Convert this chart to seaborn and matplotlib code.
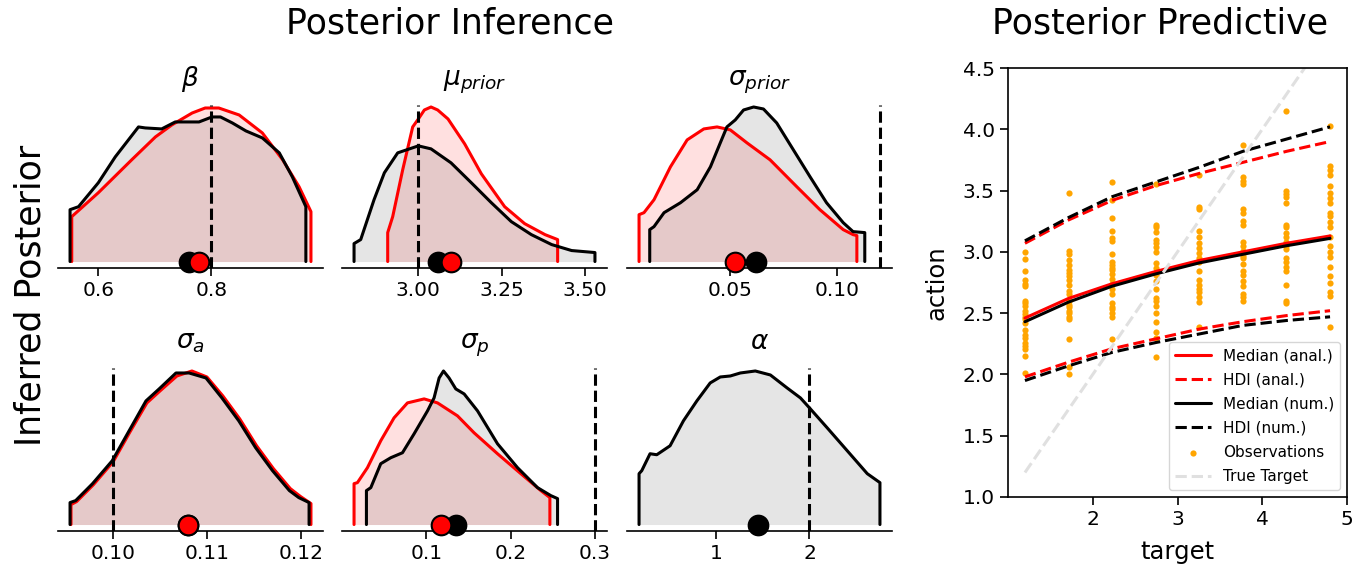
import numpy as np
import pandas as pd
import matplotlib
matplotlib.use("Agg")
import matplotlib.pyplot as plt
import seaborn as sns

sns.set_style("ticks")
plt.rcParams['font.family'] = ['DejaVu Sans']
plt.rcParams['axes.linewidth'] = 1.2
plt.rcParams['xtick.major.size'] = 6
plt.rcParams['xtick.major.width'] = 1.2
plt.rcParams['ytick.major.size'] = 6
plt.rcParams['ytick.major.width'] = 1.2
for k in ['text.color', 'axes.labelcolor', 'xtick.color', 'ytick.color', 'axes.edgecolor']:
    plt.rcParams[k] = 'black'

# ---------------- Posterior densities (relative heights) ----------------
beta_num_x = [0.550, 0.565, 0.600, 0.630, 0.671, 0.683, 0.712, 0.736, 0.778, 0.801, 0.816, 0.837, 0.861, 0.890, 0.920, 0.943, 0.967]
beta_num_y = [0.52, 0.55, 0.79, 1.05, 1.35, 1.34, 1.33, 1.40, 1.40, 1.45, 1.45, 1.39, 1.31, 1.24, 1.09, 0.85, 0.55]
beta_anal_x = [0.553, 0.600, 0.659, 0.701, 0.730, 0.766, 0.789, 0.813, 0.849, 0.890, 0.926, 0.955, 0.976]
beta_anal_y = [0.45, 0.69, 1.02, 1.25, 1.37, 1.49, 1.54, 1.54, 1.47, 1.29, 1.02, 0.75, 0.50]

mu_num_x = [2.807, 2.827, 2.867, 2.898, 2.938, 3.000, 3.038, 3.098, 3.159, 3.219, 3.279, 3.339, 3.400, 3.460, 3.530]
mu_num_y = [0.18, 0.22, 0.62, 0.89, 1.09, 1.16, 1.13, 0.99, 0.79, 0.59, 0.40, 0.27, 0.17, 0.11, 0.09]
mu_anal_x = [2.908, 2.923, 2.953, 2.983, 3.000, 3.018, 3.038, 3.058, 3.089, 3.139, 3.189, 3.259, 3.319, 3.380, 3.418]
mu_anal_y = [0.29, 0.45, 0.92, 1.35, 1.43, 1.52, 1.55, 1.52, 1.43, 1.18, 0.88, 0.55, 0.38, 0.27, 0.22]

sprior_num_x = [0.0123, 0.0143, 0.0190, 0.0267, 0.0345, 0.0407, 0.0453, 0.0484, 0.0523, 0.0562, 0.0609, 0.0655, 0.0717, 0.0795, 0.0873, 0.0950, 0.1028, 0.1074, 0.1129]
sprior_num_y = [0.32, 0.35, 0.49, 0.59, 0.72, 0.95, 1.19, 1.35, 1.42, 1.52, 1.55, 1.53, 1.39, 1.12, 0.85, 0.59, 0.39, 0.30, 0.29]
sprior_anal_x = [0.0073, 0.0096, 0.0143, 0.0220, 0.0298, 0.0376, 0.0438, 0.0500, 0.0578, 0.0686, 0.0811, 0.0919, 0.1028, 0.1074, 0.1092]
sprior_anal_y = [0.47, 0.49, 0.62, 0.95, 1.22, 1.33, 1.35, 1.32, 1.19, 1.02, 0.75, 0.52, 0.32, 0.27, 0.26]

sa_num_x = [0.0954, 0.0960, 0.0978, 0.0999, 0.1017, 0.1035, 0.1049, 0.1067, 0.1081, 0.1099, 0.1116, 0.1134, 0.1152, 0.1170, 0.1188, 0.1198, 0.1209]
sa_num_y = [0.22, 0.24, 0.41, 0.64, 0.94, 1.24, 1.36, 1.52, 1.52, 1.47, 1.27, 1.04, 0.77, 0.54, 0.34, 0.27, 0.22]
sa_anal_x = [0.0955, 0.0961, 0.0979, 0.1000, 0.1018, 0.1036, 0.1050, 0.1068, 0.1084, 0.1100, 0.1117, 0.1135, 0.1153, 0.1171, 0.1189, 0.1200, 0.1211]
sa_anal_y = [0.20, 0.23, 0.40, 0.63, 0.93, 1.22, 1.34, 1.49, 1.54, 1.48, 1.29, 1.06, 0.79, 0.56, 0.36, 0.28, 0.21]

sp_num_x = [0.0287, 0.0339, 0.0457, 0.0576, 0.0715, 0.0853, 0.1012, 0.1090, 0.1150, 0.1202, 0.1268, 0.1348, 0.1447, 0.1606, 0.1843, 0.2081, 0.2318, 0.2476, 0.2556]
sp_num_y = [0.34, 0.37, 0.61, 0.67, 0.72, 0.91, 1.14, 1.27, 1.47, 1.54, 1.47, 1.36, 1.31, 1.14, 0.81, 0.57, 0.37, 0.29, 0.26]
sp_anal_x = [0.0140, 0.0180, 0.0299, 0.0457, 0.0615, 0.0774, 0.0972, 0.1131, 0.1368, 0.1565, 0.1843, 0.2120, 0.2358, 0.2465]
sp_anal_y = [0.41, 0.42, 0.57, 0.84, 1.07, 1.22, 1.26, 1.22, 1.09, 0.92, 0.71, 0.51, 0.34, 0.27]

alpha_num_x = [0.172, 0.201, 0.290, 0.362, 0.505, 0.648, 0.792, 0.935, 1.043, 1.151, 1.258, 1.419, 1.581, 1.760, 1.903, 2.000, 2.190, 2.405, 2.620, 2.756]
alpha_num_y = [0.51, 0.54, 0.71, 0.70, 0.79, 1.04, 1.24, 1.42, 1.48, 1.49, 1.52, 1.54, 1.50, 1.37, 1.27, 1.17, 0.97, 0.74, 0.51, 0.42]

# point estimates (anal., num.) and true values
beta_pts = [0.778, 0.760]
mu_pts = [3.098, 3.060]
sprior_pts = [0.0523, 0.0621]
sa_pts = [0.1080, 0.1080]
sp_pts = [0.117, 0.1348]
alpha_pt = 1.444
true_vals = [0.8, 3.0, 0.12, 0.10, 0.30, 2.0]

titles = [r'$\beta$', r'$\mu_{prior}$', r'$\sigma_{prior}$', r'$\sigma_a$', r'$\sigma_p$', r'$\alpha$']
tick_vals = [[0.6, 0.8], [3.0, 3.25, 3.5], [0.05, 0.10], [0.10, 0.11, 0.12], [0.1, 0.2, 0.3], [1, 2]]
tick_labels = [['0.6', '0.8'], ['3.00', '3.25', '3.50'], ['0.05', '0.10'], ['0.10', '0.11', '0.12'], ['0.1', '0.2', '0.3'], ['1', '2']]

# ---------------- Posterior predictive ----------------
targets = [1.2, 1.714, 2.229, 2.743, 3.257, 3.771, 4.286, 4.8]
median_anal = [2.46, 2.62, 2.74, 2.84, 2.93, 3.00, 3.07, 3.13]
median_num = [2.43, 2.59, 2.72, 2.82, 2.91, 2.98, 3.05, 3.11]
hdi_anal_hi = [3.07, 3.26, 3.42, 3.54, 3.64, 3.73, 3.82, 3.90]
hdi_anal_lo = [1.98, 2.10, 2.21, 2.29, 2.37, 2.43, 2.48, 2.52]
hdi_num_hi = [3.09, 3.28, 3.45, 3.57, 3.69, 3.82, 3.92, 4.02]
hdi_num_lo = [1.95, 2.07, 2.18, 2.26, 2.33, 2.40, 2.44, 2.47]

obs_1 = [3.00, 2.94, 2.84, 2.77, 2.74, 2.72, 2.60, 2.58, 2.56, 2.52, 2.49, 2.47, 2.45, 2.42, 2.36, 2.32, 2.30, 2.26, 2.23, 2.21, 2.15, 2.01]
obs_2 = [3.48, 3.01, 2.98, 2.93, 2.89, 2.85, 2.83, 2.80, 2.77, 2.73, 2.68, 2.66, 2.60, 2.57, 2.55, 2.52, 2.50, 2.47, 2.45, 2.29, 2.06, 2.00]
obs_3 = [3.57, 3.42, 3.28, 3.17, 3.11, 3.09, 2.98, 2.92, 2.89, 2.87, 2.85, 2.82, 2.78, 2.74, 2.70, 2.66, 2.58, 2.55, 2.53, 2.50, 2.47, 2.29]
obs_4 = [3.55, 3.22, 3.20, 3.16, 3.10, 3.07, 3.04, 3.00, 2.91, 2.87, 2.81, 2.76, 2.70, 2.62, 2.60, 2.56, 2.50, 2.43, 2.35, 2.30, 2.14]
obs_5 = [3.63, 3.37, 3.35, 3.17, 3.12, 3.07, 3.03, 2.99, 2.95, 2.92, 2.84, 2.77, 2.73, 2.70, 2.67, 2.63, 2.59, 2.39]
obs_6 = [3.87, 3.61, 3.58, 3.55, 3.35, 3.32, 3.25, 3.22, 3.08, 3.05, 3.01, 2.97, 2.95, 2.90, 2.84, 2.81, 2.76, 2.72, 2.66, 2.63, 2.60]
obs_7 = [4.15, 3.50, 3.47, 3.45, 3.40, 3.22, 3.20, 3.15, 3.12, 3.08, 3.05, 3.02, 2.95, 2.92, 2.88, 2.84, 2.73, 2.60, 2.58]
obs_8 = [4.03, 3.70, 3.67, 3.63, 3.54, 3.48, 3.44, 3.40, 3.32, 3.29, 3.24, 3.20, 3.12, 3.05, 3.00, 2.96, 2.88, 2.80, 2.75, 2.67, 2.64, 2.39]
observations = [obs_1, obs_2, obs_3, obs_4, obs_5, obs_6, obs_7, obs_8]

# ---------------- Figure ----------------
W, H = 1370, 574
fig = plt.figure(figsize=(W / 100, H / 100), dpi=100)

def px_axes(left, top, right, bottom):
    return fig.add_axes([left / W, 1 - bottom / H, (right - left) / W, (bottom - top) / H])

col_lr = [(58, 323), (342, 607), (627, 892)]
row_tb = [(105, 268), (368, 531)]

panels = [
    ([(beta_anal_x, beta_anal_y, 'red', 0.12), (beta_num_x, beta_num_y, 'black', 0.10)], beta_pts),
    ([(mu_anal_x, mu_anal_y, 'red', 0.12), (mu_num_x, mu_num_y, 'black', 0.10)], mu_pts),
    ([(sprior_anal_x, sprior_anal_y, 'red', 0.12), (sprior_num_x, sprior_num_y, 'black', 0.10)], sprior_pts),
    ([(sa_anal_x, sa_anal_y, 'red', 0.12), (sa_num_x, sa_num_y, 'black', 0.10)], sa_pts),
    ([(sp_anal_x, sp_anal_y, 'red', 0.12), (sp_num_x, sp_num_y, 'black', 0.10)], sp_pts),
    ([(alpha_num_x, alpha_num_y, 'black', 0.10)], [None, alpha_pt]),
]

for i, (curves, pts) in enumerate(panels):
    r, c = divmod(i, 3)
    ax = px_axes(col_lr[c][0], row_tb[r][0], col_lr[c][1], row_tb[r][1])
    for xs, ys, col, a in curves:
        x = np.r_[xs[0], xs, xs[-1]]
        y = np.r_[0.0, ys, 0.0]
        ax.fill_between(x, 0, y, color=col, alpha=a, lw=0)
        sns.lineplot(x=x, y=y, sort=False, estimator=None, color=col, lw=2.2, ax=ax)
    ax.axvline(true_vals[i], color='black', ls='--', lw=2.2)
    if pts[1] is not None:
        sns.scatterplot(x=[pts[1]], y=[0.0], color='black', s=200, edgecolor='black',
                        linewidth=1.5, zorder=5, clip_on=False, ax=ax)
    if pts[0] is not None:
        sns.scatterplot(x=[pts[0]], y=[0.0], color='red', s=200, edgecolor='black',
                        linewidth=1.5, zorder=6, clip_on=False, ax=ax)
    ax.set_ylim(-0.065, 1.57)
    ax.set_yticks([])
    ax.set_ylabel('')
    ax.set_xlabel('')
    ax.set_xticks(tick_vals[i])
    ax.set_xticklabels(tick_labels[i], fontsize=14.5)
    ax.set_title(titles[i], fontsize=19, pad=14)
    sns.despine(ax=ax, left=True)

fig.text(450 / W, 1 - 24 / H, 'Posterior Inference', ha='center', va='center', fontsize=25)
fig.text(31 / W, 1 - 295 / H, 'Inferred Posterior', ha='center', va='center', rotation=90, fontsize=25)
fig.text(1160 / W, 1 - 24 / H, 'Posterior Predictive', ha='center', va='center', fontsize=25)

# ---------------- Predictive panel ----------------
axp = px_axes(1008, 68, 1347, 497)
obs_df = pd.DataFrame({
    'target': np.repeat(targets, [len(o) for o in observations]),
    'action': np.concatenate(observations),
})
sns.lineplot(x=targets, y=median_anal, color='red', lw=2.2, label='Median (anal.)', ax=axp)
sns.lineplot(x=targets, y=hdi_anal_hi, color='red', lw=2.2, ls='--', label='HDI (anal.)', ax=axp)
sns.lineplot(x=targets, y=hdi_anal_lo, color='red', lw=2.2, ls='--', ax=axp)
sns.lineplot(x=targets, y=median_num, color='black', lw=2.2, label='Median (num.)', ax=axp)
sns.lineplot(x=targets, y=hdi_num_hi, color='black', lw=2.2, ls='--', label='HDI (num.)', ax=axp)
sns.lineplot(x=targets, y=hdi_num_lo, color='black', lw=2.2, ls='--', ax=axp)
sns.scatterplot(data=obs_df, x='target', y='action', color='orange', s=20, linewidth=0,
                label='Observations', zorder=1, ax=axp)
sns.lineplot(x=[targets[0], targets[-1]], y=[targets[0], targets[-1]], color='0.88', lw=2.2,
             ls='--', label='True Target', ax=axp)
axp.set_xlim(1, 5)
axp.set_ylim(1.0, 4.5)
axp.set_xticks([2, 3, 4, 5])
axp.set_yticks(np.arange(1.0, 4.51, 0.5))
axp.tick_params(labelsize=14.5)
axp.set_xlabel('target', fontsize=17.5, labelpad=8)
axp.set_ylabel('action', fontsize=17.5, labelpad=10)
axp.legend(loc='lower right', fontsize=11, handlelength=2.3, labelspacing=0.6,
           borderaxespad=0.45)

fig.savefig('out.png', dpi=100)
